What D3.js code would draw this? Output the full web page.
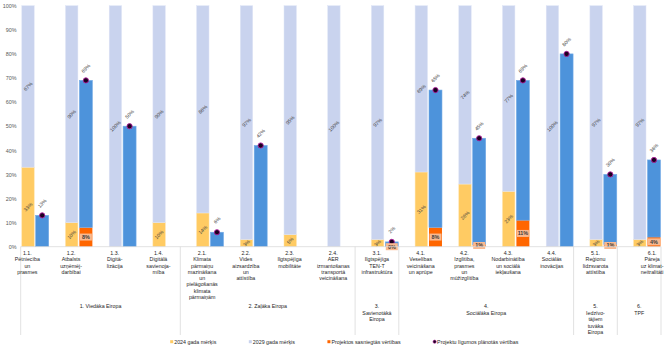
<!DOCTYPE html>
<html>
<head>
<meta charset="utf-8">
<script src="https://cdn.jsdelivr.net/npm/d3@7"></script>
<style>
  html, body { margin: 0; padding: 0; background: #fff; }
  svg { display: block; font-family: "Liberation Sans", Arial, sans-serif; }
</style>
</head>
<body>
<script>
// Specific objectives (category codes) and their wrapped names
const categories = ["1.1.","1.2.","1.3.","1.4.","2.1.","2.2.","2.3.","2.4.","3.1.","4.1.","4.2.","4.3.","4.4.","5.1.","6.1."];
const categoryNames = [
  ["Pētniecība","un","prasmes"],
  ["Atbalsts","uzņēmēj-","darbībai"],
  ["Digitā-","lizācija"],
  ["Digitālā","savienoja-","mība"],
  ["Klimata","pārmaiņu","mazināšana","un","pielāgošanās","klimata","pārmaiņām"],
  ["Vides","aizsardzība","un","attīstība"],
  ["Ilgtspējīga","mobilitāte"],
  ["AER","izmantošanas","transportā","veicināšana"],
  ["Ilgtspējīga","TEN-T","infrastruktūra"],
  ["Veselības","veicināšana","un aprūpe"],
  ["Izglītība,","prasmes","un","mūžizglītība"],
  ["Nodarbinātība","un sociālā","iekļaušana"],
  ["Sociālās","inovācijas"],
  ["Reģionu","līdzsvarota","attīstība"],
  ["Pāreja","uz klimat-","neitralitāti"]
];

// Policy objectives grouping the categories
const groupNames = [
  ["1. Viedāka Eiropa"],
  ["2. Zaļāka Eiropa"],
  ["3.","Savienotākā","Eiropa"],
  ["4.","Sociālāka Eiropa"],
  ["5.","Iedzīvo-","tājiem","tuvāka","Eiropa"],
  ["6.","TPF"]
];
const groupSizes = [4, 4, 1, 4, 1, 1];

// Series values, in percent
const target2024 = [33, 10, 0, 10, 14, 3, 5, 0, 3, 31, 26, 23, 0, 3, 3];
const target2029 = [67, 90, 100, 90, 86, 97, 95, 100, 97, 69, 74, 77, 100, 97, 97];
const achieved   = [null, 8, null, null, null, null, null, null, 0, 8, 1, 11, null, 1, 4];
const planned    = [13, 69, 50, null, 6, 42, null, null, 2, 65, 45, 69, 80, 30, 36];

const yTicks = [0, 10, 20, 30, 40, 50, 60, 70, 80, 90, 100];

const legendItems = [
  { label: "2024 gada mērķis", color: "#ffcb63", kind: "square" },
  { label: "2029 gada mērķis", color: "#c9d3ee", kind: "square" },
  { label: "Projektos sasniegtās vērtības", color: "#ff6600", kind: "square" },
  { label: "Projektu līgumos plānotās vērtības", color: "#1b0020", kind: "dot" }
];

const W = 670, H = 349;
const COL = {
  y2024: "#ffcb63", y2029: "#c9d3ee", blue: "#4d93db", orange: "#ff6600",
  box: "#f9b990", dotFill: "#1b0020", dotStroke: "#b0209c",
  text: "#404040", axis: "#d9d9d9"
};

const svg = d3.select("body").append("svg").attr("width", W).attr("height", H);

const plotLeft = 20.7, baseY = 246.7;
const y = d3.scaleLinear().domain([0, 100]).range([baseY, 5.7]);
const x = d3.scaleBand().domain(categories).range([5.5, 661]).padding(0);
const bw = x.bandwidth();
const leftOff = bw * 0.373, leftW = bw * 0.284;
const rightOff = bw * 0.691, rightW = bw * 0.297;

// Y axis labels
const yAxis = svg.append("g")
  .attr("transform", "translate(16.5,0)")
  .call(d3.axisLeft(y).tickValues(yTicks).tickFormat(d => d + "%").tickSize(0).tickPadding(0));
yAxis.select(".domain").remove();
yAxis.selectAll("text")
  .attr("font-size", 5.4).attr("fill", "#595959")
  .attr("font-family", "Liberation Sans, Arial, sans-serif");

// Rows for the left stacked bar
const rows = categories.map((c, i) => ({
  c, i,
  t24: target2024[i], t29: target2029[i],
  ach: achieved[i], pl: planned[i]
}));

const bars = svg.append("g");

// 2024 target (bottom of stack)
bars.selectAll("rect.t24").data(rows.filter(d => d.t24 > 0)).join("rect")
  .attr("class", "t24")
  .attr("x", d => x(d.c) + leftOff).attr("width", leftW)
  .attr("y", d => y(d.t24)).attr("height", d => y(0) - y(d.t24))
  .attr("fill", COL.y2024).attr("stroke", "#ffe2a8").attr("stroke-width", 0.5);

// 2029 target stacked on top
bars.selectAll("rect.t29").data(rows).join("rect")
  .attr("class", "t29")
  .attr("x", d => x(d.c) + leftOff).attr("width", leftW)
  .attr("y", d => y(d.t24 + d.t29)).attr("height", d => y(d.t24) - y(d.t24 + d.t29))
  .attr("fill", COL.y2029).attr("stroke", "#dfe5f6").attr("stroke-width", 0.5);

// Achieved values (orange) at the bottom of the right bar
const achRows = rows.filter(d => d.ach !== null);
bars.selectAll("rect.ach").data(achRows.filter(d => d.ach > 0)).join("rect")
  .attr("class", "ach")
  .attr("x", d => x(d.c) + rightOff).attr("width", rightW)
  .attr("y", d => y(d.ach)).attr("height", d => y(0) - y(d.ach))
  .attr("fill", COL.orange);

// Planned values: blue bar from achieved up to planned
const plRows = rows.filter(d => d.pl !== null);
bars.selectAll("rect.pl").data(plRows).join("rect")
  .attr("class", "pl")
  .attr("x", d => x(d.c) + rightOff).attr("width", rightW)
  .attr("y", d => y(d.pl)).attr("height", d => y(d.ach || 0) - y(d.pl))
  .attr("fill", COL.blue).attr("stroke", "#74abe6").attr("stroke-width", 0.6);

// Planned-value markers
bars.selectAll("circle.pl").data(plRows).join("circle")
  .attr("cx", d => x(d.c) + rightOff + rightW / 2)
  .attr("cy", d => y(d.pl)).attr("r", 2.6)
  .attr("fill", COL.dotFill).attr("stroke", COL.dotStroke).attr("stroke-width", 0.9);

// Rotated value labels
const labels = svg.append("g")
  .attr("font-size", 5).attr("fill", COL.text).attr("text-anchor", "middle");

function rotLabel(sel, fx, fy, ft) {
  sel.append("text")
    .attr("transform", d => `translate(${fx(d)},${fy(d)}) rotate(-45)`)
    .attr("dy", "0.35em")
    .text(ft);
}

labels.selectAll("g.l24").data(rows.filter(d => d.t24 > 0)).join("g").attr("class", "l24")
  .call(rotLabel, d => x(d.c) + leftOff + leftW / 2, d => y(d.t24 / 2), d => d.t24 + "%");
labels.selectAll("g.l29").data(rows).join("g").attr("class", "l29")
  .call(rotLabel, d => x(d.c) + leftOff + leftW / 2, d => y(d.t24 + d.t29 / 2), d => d.t29 + "%");
labels.selectAll("g.lpl").data(plRows).join("g").attr("class", "lpl")
  .call(rotLabel, d => x(d.c) + rightOff + rightW / 2, d => y(d.pl) - 12, d => d.pl + "%");

// Boxed labels for achieved values
const boxH = 7;
const achLab = svg.append("g").selectAll("g").data(achRows).join("g")
  .attr("transform", d => `translate(${x(d.c) + rightOff + rightW / 2},${y(d.ach / 2)})`);
achLab.append("rect")
  .attr("x", -(rightW - 1) / 2).attr("y", -boxH / 2)
  .attr("width", rightW - 1).attr("height", boxH)
  .attr("fill", COL.box);
achLab.append("text")
  .attr("text-anchor", "middle").attr("dy", "0.36em")
  .attr("font-size", 5.4).attr("font-weight", "bold").attr("fill", "#3a3a3a")
  .text(d => Math.round(d.ach) + "%");

// Category axis: baseline, group separators, labels
const axisG = svg.append("g");
axisG.append("line")
  .attr("x1", plotLeft).attr("x2", x.range()[1])
  .attr("y1", baseY).attr("y2", baseY)
  .attr("stroke", COL.axis).attr("stroke-width", 0.8);

// group spans
let start = 0;
const groups = groupSizes.map((n, gi) => {
  const first = categories[start], last = categories[start + n - 1];
  const x0 = Math.max(x(first), plotLeft), x1 = x(last) + bw;
  start += n;
  return { gi, x0, x1, lines: groupNames[gi] };
});

const sepX = [plotLeft, ...groups.slice(1).map(g => g.x0), x.range()[1]];
axisG.selectAll("line.sep").data(sepX).join("line")
  .attr("class", "sep")
  .attr("x1", d => d).attr("x2", d => d)
  .attr("y1", baseY).attr("y2", 335)
  .attr("stroke", COL.axis).attr("stroke-width", 0.8);

const catLine = 6.25;
const catG = axisG.selectAll("text.cat").data(categories).join("text")
  .attr("class", "cat")
  .attr("text-anchor", "middle").attr("font-size", 5.3).attr("fill", "#262626")
  .attr("transform", (c, i) => {
    const cx = x(c) + bw / 2 + (i === categories.length - 1 ? 13 : 0);
    return `translate(${cx},253.3)`;
  });
catG.selectAll("tspan").data((c, i) => [c, ...categoryNames[i]]).join("tspan")
  .attr("x", 0).attr("y", (d, j) => j * catLine).attr("dy", "0.35em")
  .text(d => d);

const grpLine = 6.65;
const grpG = axisG.selectAll("text.grp").data(groups).join("text")
  .attr("class", "grp")
  .attr("text-anchor", "middle").attr("font-size", 5.3).attr("fill", "#262626")
  .attr("transform", g => `translate(${(g.x0 + g.x1) / 2},306)`);
grpG.selectAll("tspan").data(g => g.lines).join("tspan")
  .attr("x", 0).attr("y", (d, j) => j * grpLine).attr("dy", "0.35em")
  .text(d => d);

// Legend
const leg = svg.append("g").attr("transform", "translate(171.7,341.7)")
  .attr("font-size", 5.3).attr("fill", "#262626");
let lx = 0;
legendItems.forEach(it => {
  const g = leg.append("g").attr("transform", `translate(${lx},0)`);
  if (it.kind === "square") {
    g.append("rect").attr("x", -1.5).attr("y", -1.5).attr("width", 3).attr("height", 3).attr("fill", it.color);
  } else {
    g.append("circle").attr("r", 1.6).attr("fill", it.color).attr("stroke", COL.dotStroke).attr("stroke-width", 0.6);
  }
  const t = g.append("text").attr("x", 2.5).attr("dy", "0.35em").text(it.label);
  lx += 2.5 + t.node().getComputedTextLength() + 34;
});
</script>
</body>
</html>
